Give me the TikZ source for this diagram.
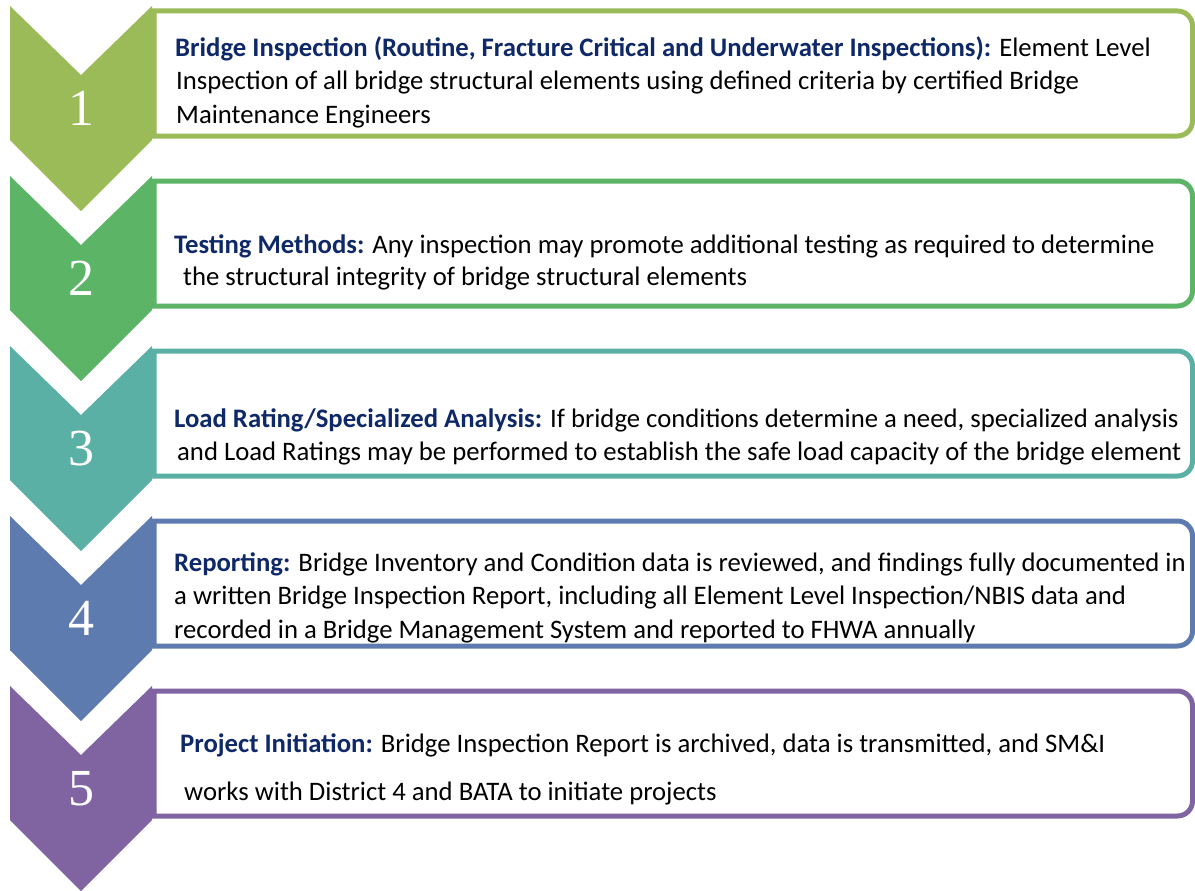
\documentclass[tikz,border=0pt]{standalone}
\usepackage{fontspec}
\newfontfamily\bodyfont{Carlito}
\newfontfamily\numfont{Liberation Serif}
\definecolor{cA}{RGB}{155,187,89}
\definecolor{cB}{RGB}{92,180,102}
\definecolor{cC}{RGB}{91,176,165}
\definecolor{cD}{RGB}{94,123,175}
\definecolor{cE}{RGB}{128,100,162}
\definecolor{headblue}{RGB}{14,40,104}
\tikzset{
  txt/.style={anchor=base west, inner sep=0pt, font=\bodyfont\fontsize{26.7}{32}\selectfont, text=black},
  num/.style={anchor=base, inner sep=0pt, font=\numfont\fontsize{52}{60}\selectfont, text=white},
  boxline/.style={line width=5pt, fill=white},
}
\newcommand{\hd}[1]{{\bfseries\color{headblue}#1}}
\newcommand{\stepbox}[2]{% #1 offset, #2 colour
  \draw[boxline, draw=#2] (154,11+#1) -- (1177.5,11+#1) arc[start angle=-90,end angle=0,radius=15] -- (1192.5,121+#1) arc[start angle=0,end angle=90,radius=15] -- (154,136+#1) -- cycle;
  \fill[#2] (10,6+#1) -- (81,75+#1) -- (152,6+#1) -- (152,140+#1) -- (81,211+#1) -- (10,140+#1) -- cycle;
}
\begin{document}
\begin{tikzpicture}[x=1pt,y=-1pt]
\useasboundingbox (0,0) rectangle (1195,891);
\stepbox{0}{cA}
\stepbox{170}{cB}
\stepbox{340}{cC}
\stepbox{510}{cD}
\stepbox{680}{cE}
\node[num] (n1) at (81,125) {1};
\node[num] (n2) at (81,295) {2};
\node[num] (n3) at (81,465) {3};
\node[num] (n4) at (81,635) {4};
\node[num] (n5) at (81,805) {5};
% box 1
\node[txt] (t1a) at (175,57) {\hd{Bridge Inspection (Routine, Fracture Critical and Underwater Inspections):} Element Level};
\node[txt] (t1b) at (176,90) {Inspection of all bridge structural elements using defined criteria by certified Bridge};
\node[txt] (t1c) at (176,123) {Maintenance Engineers};
% box 2
\node[txt] (t2a) at (174,253) {\hd{Testing Methods:} Any inspection may promote additional testing as required to determine};
\node[txt] (t2b) at (183,285) {the structural integrity of bridge structural elements};
% box 3
\node[txt] (t3a) at (174,427) {\hd{Load Rating/Specialized Analysis:} If bridge conditions determine a need, specialized analysis};
\node[txt] (t3b) at (177,460) {and Load Ratings may be performed to establish the safe load capacity of the bridge element};
% box 4
\node[txt] (t4a) at (174,571) {\hd{Reporting:} Bridge Inventory and Condition data is reviewed, and findings fully documented in};
\node[txt] (t4b) at (174,604) {a written Bridge Inspection Report, including all Element Level Inspection/NBIS data and};
\node[txt] (t4c) at (174,638) {recorded in a Bridge Management System and reported to FHWA annually};
% box 5
\node[txt] (t5a) at (180,752) {\hd{Project Initiation:} Bridge Inspection Report is archived, data is transmitted, and SM\&I};
\node[txt] (t5b) at (184,800) {works with District 4 and BATA to initiate projects};
\end{tikzpicture}
\end{document}
